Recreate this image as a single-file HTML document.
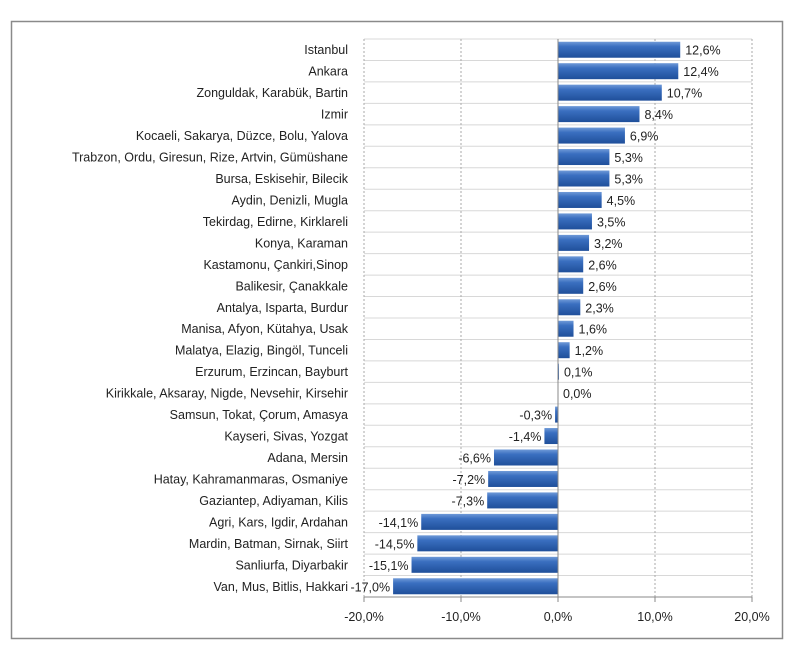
<!DOCTYPE html>
<html><head><meta charset="utf-8"><style>
body{margin:0;background:#fff;}
svg text{font-family:"Liberation Sans",sans-serif;font-size:12.5px;fill:#222;}
</style></head><body>
<svg width="800" height="662" xmlns="http://www.w3.org/2000/svg">
<defs><linearGradient id="g" x1="0" y1="0" x2="0" y2="1">
<stop offset="0" stop-color="#6f9ad8"/><stop offset="0.3" stop-color="#3a6fc0"/><stop offset="1" stop-color="#1f4f9a"/></linearGradient></defs>
<rect x="11.5" y="21.5" width="771" height="617" fill="#fff" stroke="#8a8a8a" stroke-width="1.5"/>
<g id="c"></g>
</svg>
<script>
const d=[["Istanbul",12.6],["Ankara",12.4],["Zonguldak, Karabük, Bartin",10.7],["Izmir",8.4],["Kocaeli, Sakarya, Düzce, Bolu, Yalova",6.9],["Trabzon, Ordu, Giresun, Rize, Artvin, Gümüshane",5.3],["Bursa, Eskisehir, Bilecik",5.3],["Aydin, Denizli, Mugla",4.5],["Tekirdag, Edirne, Kirklareli",3.5],["Konya, Karaman",3.2],["Kastamonu, Çankiri,Sinop",2.6],["Balikesir, Çanakkale",2.6],["Antalya, Isparta, Burdur",2.3],["Manisa, Afyon, Kütahya, Usak",1.6],["Malatya, Elazig, Bingöl, Tunceli",1.2],["Erzurum, Erzincan, Bayburt",0.1],["Kirikkale, Aksaray, Nigde, Nevsehir, Kirsehir",0.0],["Samsun, Tokat, Çorum, Amasya",-0.3],["Kayseri, Sivas, Yozgat",-1.4],["Adana, Mersin",-6.6],["Hatay, Kahramanmaras, Osmaniye",-7.2],["Gaziantep, Adiyaman, Kilis",-7.3],["Agri, Kars, Igdir, Ardahan",-14.1],["Mardin, Batman, Sirnak, Siirt",-14.5],["Sanliurfa, Diyarbakir",-15.1],["Van, Mus, Bitlis, Hakkari",-17.0]];
const X=v=>558+v*9.7, T=39, B=597, P=(B-T)/26;
let s='';
for(let i=0;i<=26;i++){const y=T+i*P;s+=`<line x1="364" x2="752" y1="${y}" y2="${y}" stroke="#d8d8d8"/>`;}
[-20,-10,10,20].forEach(v=>s+=`<line x1="${X(v)}" x2="${X(v)}" y1="${T}" y2="${B}" stroke="#aaa" stroke-dasharray="2,2"/>`);
d.forEach((r,i)=>{const c=T+P*i+P/2,v=r[1];const x0=Math.min(X(0),X(v)),w=Math.abs(X(v)-X(0));
if(w>0.5)s+=`<rect x="${x0}" y="${c-8}" width="${w}" height="16" fill="url(#g)"/>`;
s+=`<text x="348" y="${c+4.5}" text-anchor="end">${r[0]}</text>`;
const t=v.toFixed(1).replace('.',',')+'%';
if(v>=0)s+=`<text x="${X(v)+5}" y="${c+5}">${t}</text>`;else s+=`<text x="${X(v)-3}" y="${c+5}" text-anchor="end">${t}</text>`;});
s+=`<line x1="${X(0)}" x2="${X(0)}" y1="${T}" y2="${B}" stroke="#888"/><line x1="364" x2="752" y1="${B}" y2="${B}" stroke="#888"/>`;
[-20,-10,0,10,20].forEach(v=>{s+=`<line x1="${X(v)}" x2="${X(v)}" y1="${B}" y2="${B+5}" stroke="#888"/><text x="${X(v)}" y="${B+24}" text-anchor="middle">${v.toFixed(1).replace('.',',')}%</text>`;});
document.getElementById('c').innerHTML=s;
</script>
</body></html>
